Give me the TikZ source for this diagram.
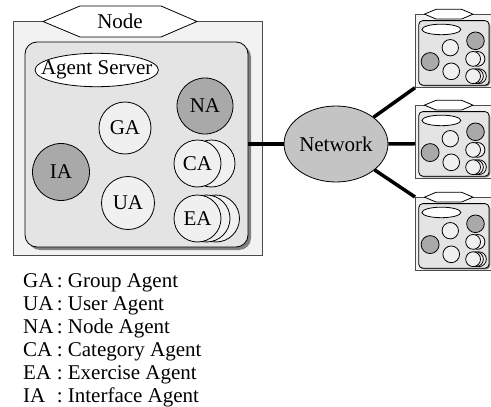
\documentclass[tikz,border=0pt]{standalone}
\usepackage{fontspec}
\setmainfont{Liberation Serif}
\usetikzlibrary{shapes.geometric}
\definecolor{outerfill}{HTML}{F2F2F2}
\definecolor{innerfill}{HTML}{E4E4E4}
\definecolor{lightfill}{HTML}{F0F0F0}
\definecolor{darkfill}{HTML}{A9A9A9}
\definecolor{netfill}{HTML}{C4C4C4}
\definecolor{shadowfill}{HTML}{808080}
\tikzset{
  outerbox/.style={fill=outerfill, draw=gray!60!black, line width=0.7pt},
  innerbox/.style={fill=innerfill, draw=black, line width=0.8pt},
  shadowbox/.style={fill=shadowfill, draw=none},
  lightag/.style={fill=lightfill, draw=black, line width=0.8pt},
  darkag/.style={fill=darkfill, draw=black, line width=0.8pt},
  whiteshape/.style={fill=white, draw=black, line width=0.8pt},
  link/.style={line width=3.5pt, draw=black},
  lbl/.style={inner sep=0pt, font=\fontsize{21}{23}\selectfont},
  netnode/.style={ellipse, fill=netfill, draw=black, line width=0.8pt,
    minimum width=92pt, minimum height=76pt, inner sep=0pt,
    font=\fontsize{21}{23}\selectfont},
}
% #1 prefix, #2 corner radius, #3 shadow offset
\newcommand\agentfig[3]{%
  \path[outerbox] (13,21) rectangle (262,255);
  \coordinate (#1-o-nw) at (13,21);
  \coordinate (#1-o-sw) at (13,255);
  \coordinate (#1-o-w) at (13,144);
  \path[shadowbox, rounded corners=#2] (25+#3,42+#3) rectangle (248+#3,247+#3);
  \path[innerbox, rounded corners=#2] (25,42) rectangle (248,247);
  \coordinate (#1-i-e) at (248,144);
  \path[whiteshape] (43,21.5) -- (80,6) -- (161,6) -- (197,21.5) -- (161,37) -- (80,37) -- cycle;
  \coordinate (#1-hex) at (120,21.5);
  \path[whiteshape] (96.7,70) ellipse [x radius=61.7, y radius=16.7];
  \coordinate (#1-srv) at (96.7,70);
  \path[darkag] (205,106) circle [radius=28];
  \path[lightag] (125,128) circle [radius=26];
  \path[darkag] (61,172) circle [radius=28.5];
  \path[lightag] (128,203) circle [radius=26.5];
  \path[lightag] (211.5,163.5) circle [radius=23.5];
  \path[lightag] (197.5,163.5) circle [radius=23.5];
  \path[lightag] (216,218.5) circle [radius=23.5];
  \path[lightag] (206.5,218.5) circle [radius=23.5];
  \path[lightag] (197.5,218.5) circle [radius=23.5];
}
\begin{document}
\begin{tikzpicture}[x=1pt, y=-1pt]
  \useasboundingbox (0,0) rectangle (491,407);
  \clip (0,0) rectangle (491,407);

  % main node
  \agentfig{m}{12pt}{3}
  \node[lbl] (nodelbl) at (m-hex) {Node};
  \node[lbl] (srvlbl) at (m-srv) {Agent Server};
  \node[lbl] (na) at (205,106) {NA};
  \node[lbl] (ga) at (125,128) {GA};
  \node[lbl] (ia) at (61,172) {IA};
  \node[lbl] (ua) at (128,203) {UA};
  \node[lbl] (ca) at (197.5,163.5) {CA};
  \node[lbl] (ea) at (197.5,218.5) {EA};

  % small nodes
  \begin{scope}[shift={(415,14)}, scale=0.315, shift={(-13,-21)}]
    \agentfig{t}{4pt}{4}
  \end{scope}
  \begin{scope}[shift={(415,105)}, scale=0.315, shift={(-13,-21)}]
    \agentfig{c}{4pt}{4}
  \end{scope}
  \begin{scope}[shift={(415,197)}, scale=0.315, shift={(-13,-21)}]
    \agentfig{b}{4pt}{4}
  \end{scope}

  % network
  \node[netnode] (net) at (336,144) {Network};
  \draw[link] (m-i-e) -- (net);
  \draw[link] (net) -- (t-o-sw);
  \draw[link] (net) -- (c-o-w);
  \draw[link] (net) -- (b-o-nw);

  % legend
  \node[lbl, anchor=base west] (lga) at (23,287) {\makebox[1.6em][l]{GA}:\ Group Agent};
  \node[lbl, anchor=base west] (lua) at (23,310) {\makebox[1.6em][l]{UA}:\ User Agent};
  \node[lbl, anchor=base west] (lna) at (23,333) {\makebox[1.6em][l]{NA}:\ Node Agent};
  \node[lbl, anchor=base west] (lca) at (23,356) {\makebox[1.6em][l]{CA}:\ Category Agent};
  \node[lbl, anchor=base west] (lea) at (23,379) {\makebox[1.6em][l]{EA}:\ Exercise Agent};
  \node[lbl, anchor=base west] (lia) at (23,402) {\makebox[1.6em][l]{IA}:\ Interface Agent};
\end{tikzpicture}
\end{document}
